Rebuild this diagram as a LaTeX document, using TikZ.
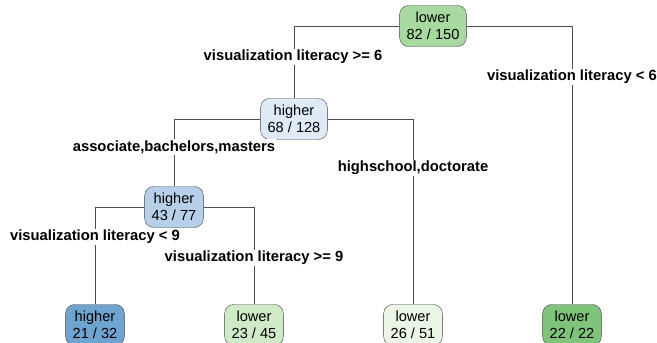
\documentclass[tikz,border=0pt]{standalone}
\usepackage{fontspec}
\setmainfont{Liberation Sans}
\usepackage{tikz}
\usetikzlibrary{positioning}
\definecolor{grnmid}{HTML}{A8D9A0}
\definecolor{grnlight}{HTML}{CFEAC7}
\definecolor{grnpale}{HTML}{EAF5E5}
\definecolor{grndark}{HTML}{80C47B}
\definecolor{bluepale}{HTML}{DEEBF7}
\definecolor{bluelight}{HTML}{B7D0E9}
\definecolor{bluedark}{HTML}{6FA4D1}
\tikzstyle{split}=[rectangle, rounded corners=9pt, draw=black!75, thin,
  align=center, inner xsep=7pt, inner ysep=3pt, minimum height=41pt,
  font=\fontsize{14.6}{17}\selectfont]
\tikzstyle{cond}=[fill=white, inner sep=1pt,
  font=\fontsize{14.8}{17}\selectfont\bfseries]
\tikzstyle{branch}=[draw=black!70, line width=0.8pt]

\begin{document}
\begin{tikzpicture}[x=1pt, y=-1pt]
\useasboundingbox (0,0) rectangle (657,343);
\clip (0,0) rectangle (657,343);

% inner splits
\node[split, fill=grnmid] (root) at (433,26) {lower\\82 / 150};
\node[split, fill=bluepale] (vislit) at (294,119) {higher\\68 / 128};
\node[split, fill=bluelight] (educ) at (174,207) {higher\\43 / 77};

% leaves
\node[split, fill=bluedark] (leafa) at (95,325) {higher\\21 / 32};
\node[split, fill=grnlight] (leafb) at (254,325) {lower\\23 / 45};
\node[split, fill=grnpale] (leafc) at (413,325) {lower\\26 / 51};
\node[split, fill=grndark] (leafd) at (572,325) {lower\\22 / 22};

\draw[branch] (root.west) -| (vislit.north);
\draw[branch] (root.east) -| (leafd.north);
\draw[branch] (vislit.west) -| (educ.north);
\draw[branch] (vislit.east) -| (leafc.north);
\draw[branch] (educ.west) -| (leafa.north);
\draw[branch] (educ.east) -| (leafb.north);

% split conditions
\node[cond] (geq6) at (293,57) {visualization literacy >= 6};
\node[cond] (lt6) at (572,77) {visualization literacy < 6};
\node[cond] (degree) at (174,147) {associate,bachelors,masters};
\node[cond] (nodegree) at (413,168) {highschool,doctorate};
\node[cond] (lt9) at (95,237) {visualization literacy < 9};
\node[cond] (geq9) at (254,258) {visualization literacy >= 9};

\end{tikzpicture}
\end{document}
